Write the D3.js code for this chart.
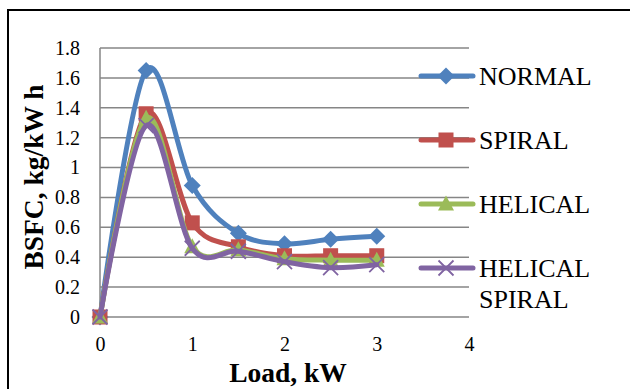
<!DOCTYPE html>
<html>
<head>
<meta charset="utf-8">
<script src="https://cdn.jsdelivr.net/npm/d3@7"></script>
<style>
  html, body { margin: 0; padding: 0; background: #fff; }
  svg { display: block; }
  text { font-family: "Liberation Serif", "Times New Roman", serif; fill: #000; }
</style>
</head>
<body>
<svg id="chart" width="630" height="389"></svg>
<script>
// ---- data ----
const loads = [0, 0.5, 1, 1.5, 2, 2.5, 3];
const normal = [0, 1.65, 0.88, 0.56, 0.49, 0.52, 0.54];
const spiral = [0, 1.36, 0.63, 0.47, 0.41, 0.41, 0.41];
const helical = [0, 1.33, 0.47, 0.45, 0.39, 0.38, 0.38];
const helicalSpiral = [0, 1.28, 0.46, 0.44, 0.37, 0.33, 0.35];
const seriesNames = ["NORMAL", "SPIRAL", "HELICAL", "HELICAL SPIRAL"];
const seriesColors = ["#4F81BD", "#C0504D", "#9BBB59", "#8064A2"];
const seriesMarkers = ["diamond", "square", "triangle", "cross"];
const yTicks = [0, 0.2, 0.4, 0.6, 0.8, 1, 1.2, 1.4, 1.6, 1.8];
const xTicks = [0, 1, 2, 3, 4];

const seriesValues = [normal, spiral, helical, helicalSpiral];
const SERIF = '"Liberation Serif", "Times New Roman", serif';

const svg = d3.select("#chart");

// outer border
svg.append("rect")
  .attr("x", 8).attr("y", 10).attr("width", 640).attr("height", 400)
  .attr("fill", "none").attr("stroke", "#000").attr("stroke-width", 2);

const x = d3.scaleLinear().domain([0, 4]).range([100, 469]);
const y = d3.scaleLinear().domain([0, 1.8]).range([317, 48]);

// gridlines
svg.append("g").selectAll("line").data(yTicks).join("line")
  .attr("x1", x(0)).attr("x2", x(4))
  .attr("y1", d => y(d)).attr("y2", d => y(d))
  .attr("stroke", "#868686").attr("stroke-width", 1.5);

// y axis line
svg.append("line")
  .attr("x1", x(0)).attr("x2", x(0)).attr("y1", y(0)).attr("y2", y(1.8))
  .attr("stroke", "#868686").attr("stroke-width", 1.5);

// y axis labels
const yAxis = d3.axisLeft(y).tickValues(yTicks).tickFormat(d3.format("")).tickSize(0).tickPadding(20);
const gy = svg.append("g").attr("transform", `translate(${x(0)},0)`).call(yAxis)
  .attr("font-family", SERIF).attr("font-size", 20);
gy.select(".domain").remove();
gy.selectAll("text").style("font-family", SERIF).style("font-size", "20px").attr("fill", "#000");

// x axis labels
const xAxis = d3.axisBottom(x).tickValues(xTicks).tickFormat(d3.format("")).tickSize(0).tickPadding(20);
const gx = svg.append("g").attr("transform", `translate(0,${y(0)})`).call(xAxis)
  .attr("font-family", SERIF).attr("font-size", 20);
gx.select(".domain").remove();
gx.selectAll("text").style("font-family", SERIF).style("font-size", "20px").attr("fill", "#000");

// axis titles
svg.append("text").attr("x", 288).attr("y", 382).attr("text-anchor", "middle")
  .style("font-family", SERIF).style("font-size", "27.5px").style("font-weight", "bold").text("Load, kW");
svg.append("text").attr("transform", "translate(43,177) rotate(-90)").attr("text-anchor", "middle")
  .style("font-family", SERIF).style("font-size", "27.5px").style("font-weight", "bold").text("BSFC, kg/kW h");

function drawMarker(g, type, cx, cy, color) {
  if (type === "diamond") {
    g.append("path").attr("d", `M${cx},${cy-8.5}L${cx+8.5},${cy}L${cx},${cy+8.5}L${cx-8.5},${cy}Z`).attr("fill", color);
  } else if (type === "square") {
    g.append("rect").attr("x", cx-7.5).attr("y", cy-7.5).attr("width", 15).attr("height", 15).attr("fill", color);
  } else if (type === "triangle") {
    g.append("path").attr("d", `M${cx},${cy-8.5}L${cx+8},${cy+6.5}L${cx-8},${cy+6.5}Z`).attr("fill", color);
  } else if (type === "cross") {
    g.append("path").attr("d", `M${cx-7.5},${cy-7.5}L${cx+7.5},${cy+7.5}M${cx+7.5},${cy-7.5}L${cx-7.5},${cy+7.5}`)
      .attr("stroke", color).attr("stroke-width", 1.8).attr("fill", "none");
  }
}

const line = d3.line().x(d => x(d[0])).y(d => y(d[1])).curve(d3.curveCardinal.tension(0));

seriesValues.forEach((vals, i) => {
  const g = svg.append("g");
  const pts = loads.map((l, j) => [l, vals[j]]);
  g.append("path").attr("d", line(pts)).attr("fill", "none")
    .attr("stroke", seriesColors[i]).attr("stroke-width", 5).attr("stroke-linejoin", "round").attr("stroke-linecap", "round");
  pts.forEach(p => drawMarker(g, seriesMarkers[i], x(p[0]), y(p[1]), seriesColors[i]));
});

// legend
const legendY = [76, 140, 204, 268];
seriesNames.forEach((name, i) => {
  const g = svg.append("g");
  g.append("line").attr("x1", 421).attr("x2", 473).attr("y1", legendY[i]).attr("y2", legendY[i])
    .attr("stroke", seriesColors[i]).attr("stroke-width", 5).attr("stroke-linecap", "round");
  drawMarker(g, seriesMarkers[i], 446, legendY[i], seriesColors[i]);
  const t = g.append("text").attr("x", 479).attr("y", legendY[i] + 9)
    .style("font-family", SERIF).style("font-size", "26px");
  const words = name === "HELICAL SPIRAL" ? ["HELICAL", "SPIRAL"] : [name];
  words.forEach((w, k) => t.append("tspan").attr("x", 479).attr("dy", k === 0 ? 0 : 31).text(w));
});
</script>
</body>
</html>
